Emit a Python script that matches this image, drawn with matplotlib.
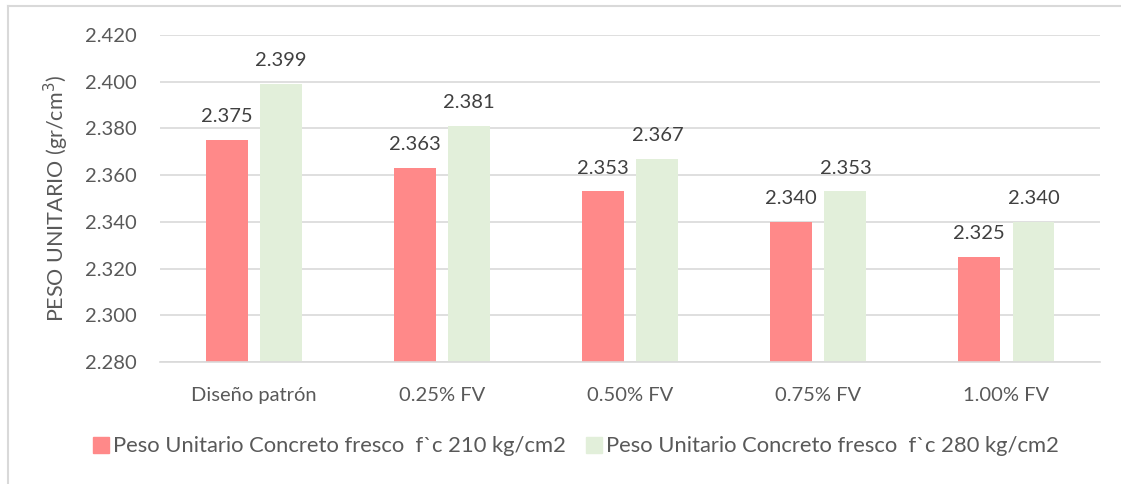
import numpy as np
import matplotlib.pyplot as plt
from matplotlib.lines import Line2D

categories = ['Diseño patrón', '0.25% FV', '0.50% FV', '0.75% FV', '1.00% FV']
fc210 = [2.375, 2.363, 2.353, 2.340, 2.325]
fc280 = [2.399, 2.381, 2.367, 2.353, 2.340]
series_names = ['Peso Unitario Concreto fresco  f`c 210 kg/cm2',
                'Peso Unitario Concreto fresco  f`c 280 kg/cm2']
yticks = [2.280, 2.300, 2.320, 2.340, 2.360, 2.380, 2.400, 2.420]

plt.rcParams['font.family'] = ['Lato', 'DejaVu Sans']
txt = '#595959'
red = '#FF8989'
green = '#E2EFDA'
fs = 14.5

fig = plt.figure(figsize=(11.21, 4.84), dpi=100)
ax = fig.add_axes([0.1427, 0.252, 0.839, 0.676])

x = np.arange(len(categories))
w = 0.223
off = 0.144
ax.bar(x - off, np.array(fc210) - 2.28, w, bottom=2.28, color=red, zorder=2)
ax.bar(x + off, np.array(fc280) - 2.28, w, bottom=2.28, color=green, zorder=2)

for xi, v in zip(x - off, fc210):
    ax.text(xi, v + 0.0063, f'{v:.3f}', ha='center', va='bottom', fontsize=fs, color='#404040')
for xi, v in zip(x + off, fc280):
    ax.text(xi, v + 0.0063, f'{v:.3f}', ha='center', va='bottom', fontsize=fs, color='#404040')

ax.set_xlim(-0.5, len(categories) - 0.5)
ax.set_ylim(2.28, 2.42)
ax.set_yticks(yticks)
ax.set_yticklabels([f'{t:.3f}' for t in yticks])
ax.set_xticks(x)
ax.set_xticklabels(categories)
ax.tick_params(axis='both', length=0, labelsize=fs, labelcolor=txt)
ax.tick_params(axis='y', pad=17)
ax.tick_params(axis='x', pad=18)
ax.grid(axis='y', color='#D9D9D9', linewidth=1.2, zorder=0)
for s in ['top', 'right', 'left']:
    ax.spines[s].set_visible(False)
ax.spines['bottom'].set_color('#D9D9D9')
ax.spines['bottom'].set_linewidth(1.2)
ax.set_ylabel('PESO UNITARIO (gr/cm$^3$)', fontsize=15.5, color=txt, labelpad=10)

handles = [Line2D([], [], marker='s', linestyle='', markersize=12, color=red),
           Line2D([], [], marker='s', linestyle='', markersize=12, color=green)]
fig.legend(handles, series_names, loc='center', bbox_to_anchor=(0.513, 0.078),
           ncol=2, frameon=False, fontsize=15.8, labelcolor=txt,
           handletextpad=0.1, columnspacing=0.8, handlelength=0.9)

# outer chart border (left and top edges visible)
fig.add_artist(Line2D([0.0075, 0.0075], [0, 0.988], color='#D9D9D9', lw=1.5, transform=fig.transFigure))
fig.add_artist(Line2D([0.0075, 1.0], [0.988, 0.988], color='#D9D9D9', lw=1.5, transform=fig.transFigure))

fig.savefig('out.png', dpi=100)
